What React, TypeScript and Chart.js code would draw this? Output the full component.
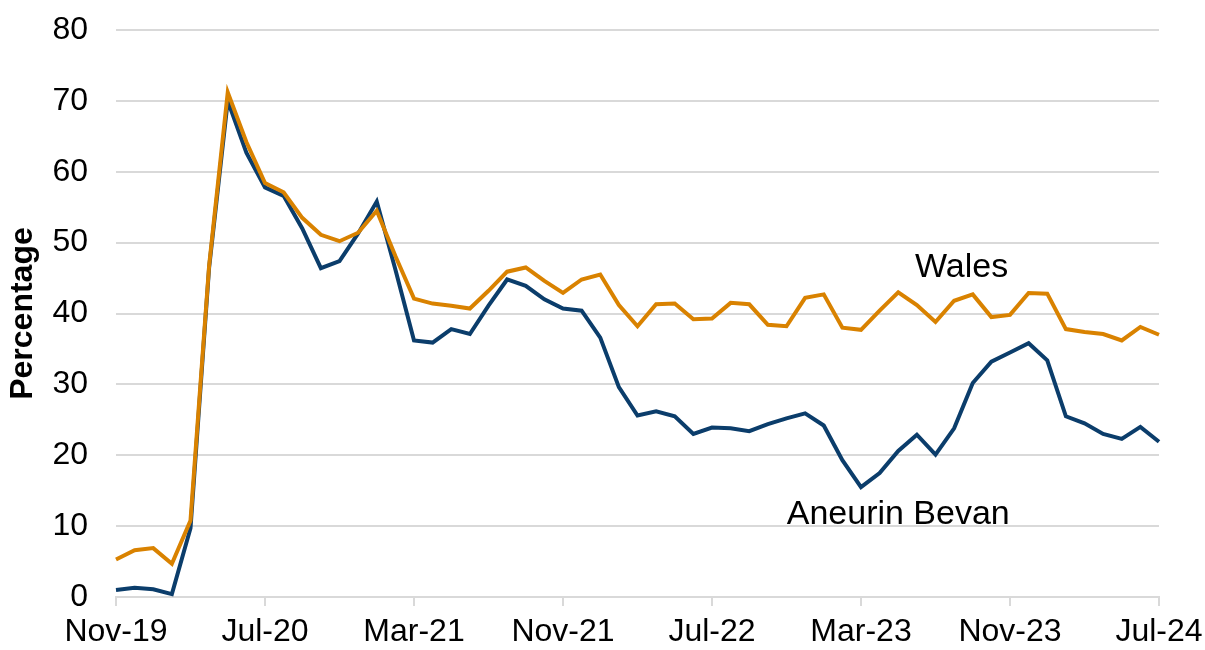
import React, { useEffect, useRef } from "react";
import { Chart, registerables } from "chart.js";

Chart.register(...registerables);

const months: string[] = [
  "Nov-19", "Dec-19",
  "Jan-20", "Feb-20", "Mar-20", "Apr-20", "May-20", "Jun-20", "Jul-20", "Aug-20", "Sep-20", "Oct-20", "Nov-20", "Dec-20",
  "Jan-21", "Feb-21", "Mar-21", "Apr-21", "May-21", "Jun-21", "Jul-21", "Aug-21", "Sep-21", "Oct-21", "Nov-21", "Dec-21",
  "Jan-22", "Feb-22", "Mar-22", "Apr-22", "May-22", "Jun-22", "Jul-22", "Aug-22", "Sep-22", "Oct-22", "Nov-22", "Dec-22",
  "Jan-23", "Feb-23", "Mar-23", "Apr-23", "May-23", "Jun-23", "Jul-23", "Aug-23", "Sep-23", "Oct-23", "Nov-23", "Dec-23",
  "Jan-24", "Feb-24", "Mar-24", "Apr-24", "May-24", "Jun-24", "Jul-24",
];

const shownTickLabels: string[] = ["Nov-19", "Jul-20", "Mar-21", "Nov-21", "Jul-22", "Mar-23", "Nov-23", "Jul-24"];

const aneurinBevan: number[] = [
  1.0, 1.3, 1.1, 0.4, 9.7, 46.5, 70.0, 62.7, 57.8, 56.6,
  52.0, 46.4, 47.4, 51.3, 55.8, 46.2, 36.2, 35.9, 37.8, 37.1,
  41.1, 44.8, 43.9, 42.0, 40.7, 40.4, 36.6, 29.6, 25.6, 26.2,
  25.5, 23.0, 23.9, 23.8, 23.4, 24.4, 25.2, 25.9, 24.2, 19.3,
  15.5, 17.5, 20.6, 22.9, 20.1, 23.8, 30.2, 33.2, 34.5, 35.8,
  33.4, 25.5, 24.5, 23.0, 22.3, 24.0, 21.9,
];

const wales: number[] = [
  5.3, 6.6, 6.9, 4.7, 10.8, 46.8, 71.2, 64.2, 58.4, 57.1,
  53.5, 51.1, 50.2, 51.4, 54.5, 48.1, 42.1, 41.4, 41.1, 40.7,
  43.2, 45.9, 46.5, 44.6, 42.9, 44.8, 45.5, 41.2, 38.2, 41.3,
  41.4, 39.2, 39.3, 41.5, 41.3, 38.4, 38.2, 42.2, 42.7, 38.0,
  37.7, 40.4, 43.0, 41.2, 38.8, 41.8, 42.7, 39.5, 39.8, 42.9,
  42.8, 37.8, 37.4, 37.1, 36.2, 38.1, 37.0,
];

const yTicks: number[] = [0, 10, 20, 30, 40, 50, 60, 70, 80];

// Series labels drawn next to lines, in data coordinates (category index, value at baseline)
const seriesLabels = [
  { text: "Wales", index: 45.4, value: 45.15 },
  { text: "Aneurin Bevan", index: 42.0, value: 10.26 },
];

const FONT = "'Liberation Sans', Arial, Helvetica, sans-serif";
const BLUE = "#0B3D6B";
const ORANGE = "#D98200";
const GRID = "#D9D9D9";

const labelPlugin = {
  id: "seriesLabels",
  afterDatasetsDraw(chart: any) {
    const { ctx, scales } = chart;
    ctx.save();
    ctx.font = `34px ${FONT}`;
    ctx.fillStyle = "#000";
    ctx.textAlign = "center";
    ctx.textBaseline = "alphabetic";
    for (const l of seriesLabels) {
      const x = scales.x.getPixelForValue(l.index);
      const y = scales.y.getPixelForValue(l.value);
      ctx.fillText(l.text, x, y);
    }
    ctx.restore();
  },
};

export default function App() {
  const ref = useRef<HTMLCanvasElement | null>(null);

  useEffect(() => {
    document.body.style.margin = "0";
    if (!ref.current) return;
    const chart = new Chart(ref.current, {
      type: "line",
      data: {
        labels: months,
        datasets: [
          {
            label: "Wales",
            data: wales,
            borderColor: ORANGE,
            backgroundColor: ORANGE,
            borderWidth: 4,
            pointRadius: 0,
            tension: 0,
          },
          {
            label: "Aneurin Bevan",
            data: aneurinBevan,
            borderColor: BLUE,
            backgroundColor: BLUE,
            borderWidth: 4,
            pointRadius: 0,
            tension: 0,
          },
        ],
      },
      options: {
        responsive: false,
        animation: false,
        layout: { padding: { left: 0, right: 46, top: 30, bottom: 0 } },
        plugins: {
          legend: { display: false },
          tooltip: { enabled: false },
        },
        scales: {
          x: {
            type: "category",
            offset: false,
            grid: {
              display: true,
              drawOnChartArea: false,
              drawTicks: true,
              tickLength: 9,
              lineWidth: 2,
              color: (c: any) =>
                shownTickLabels.includes(months[c.index]) ? GRID : "rgba(0,0,0,0)",
            },
            border: { display: true, color: GRID, width: 2 },
            ticks: {
              autoSkip: false,
              maxRotation: 0,
              minRotation: 0,
              padding: 7,
              color: "#000",
              font: { family: FONT, size: 32 },
              callback: (_v: any, i: number) =>
                shownTickLabels.includes(months[i]) ? months[i] : "",
            },
            afterFit: (scale: any) => {
              scale.height = 53;
              scale.paddingLeft = 0;
              scale.paddingRight = 0;
              scale.paddingTop = 0;
              scale.paddingBottom = 0;
            },
          },
          y: {
            min: 0,
            max: 80,
            afterBuildTicks: (scale: any) => {
              scale.ticks = yTicks.map((v) => ({ value: v }));
            },
            grid: {
              display: true,
              drawTicks: false,
              lineWidth: 2,
              color: GRID,
            },
            border: { display: false },
            ticks: {
              padding: 28,
              color: "#000",
              font: { family: FONT, size: 32 },
            },
            title: {
              display: true,
              text: "Percentage",
              color: "#000",
              font: { family: FONT, size: 32, weight: "bold" },
              padding: { top: 4, bottom: 0 },
            },
            afterFit: (scale: any) => {
              scale.width = 116;
              scale.paddingLeft = 0;
              scale.paddingRight = 0;
              scale.paddingTop = 0;
              scale.paddingBottom = 0;
            },
          },
        },
      },
      plugins: [labelPlugin],
    });
    return () => chart.destroy();
  }, []);

  return <canvas ref={ref} width={1205} height={650} style={{ display: "block" }} />;
}
